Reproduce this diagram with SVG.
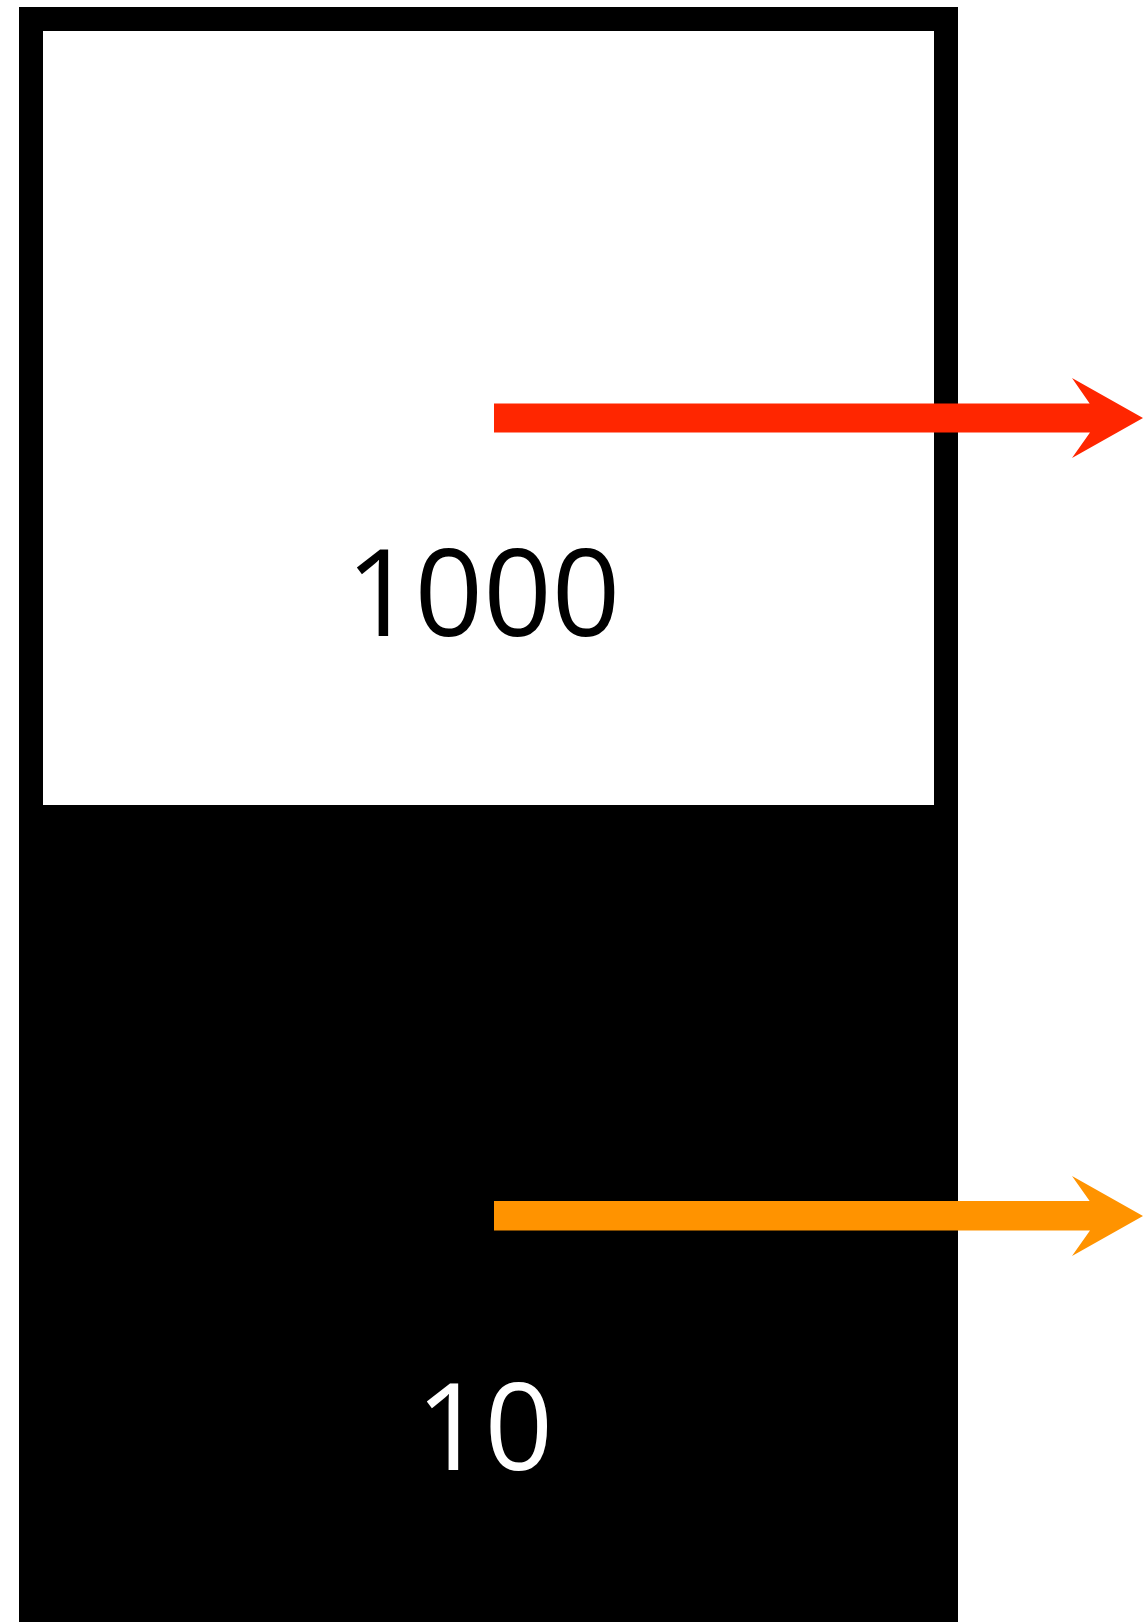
<svg xmlns="http://www.w3.org/2000/svg" width="1143" height="1622" viewBox="0 0 1143 1622">
<style>
.lbl{font-family:"Open Sans","Liberation Sans",Arial,sans-serif;font-size:120px}
</style>
<rect width="1143" height="1622" fill="#fff"/>
<g id="top">
<rect x="31" y="19" width="915" height="798" fill="#fff" stroke="#000" stroke-width="24"/>
<text class="lbl" x="346" y="636" fill="#000">1000</text>
</g>
<g id="bottom">
<rect x="19" y="805" width="939" height="830" fill="#000"/>
<text class="lbl" x="416" y="1470" fill="#fff">10</text>
</g>
<g id="connectors">
<path d="M494,403.5 H1090 V404 L1072,378 L1143,418 L1072,458 L1090,432.5 H494 Z" fill="#FF2600"/>
<path d="M494,1201 H1090 V1201.5 L1072,1176 L1143,1216 L1072,1256 L1090,1230.5 H494 Z" fill="#FF9300"/>
</g>
</svg>
